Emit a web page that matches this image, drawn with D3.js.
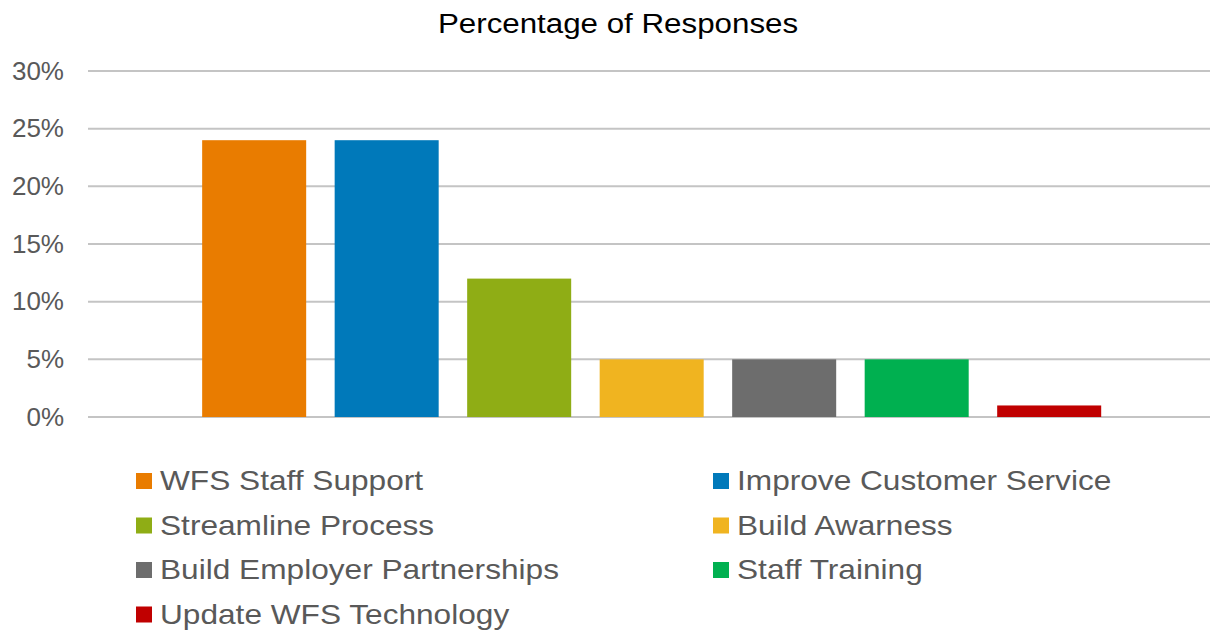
<!DOCTYPE html>
<html>
<head>
<meta charset="utf-8">
<script src="https://cdn.jsdelivr.net/npm/d3@7"></script>
<style>
  body { margin: 0; background: #fff; }
  text { font-family: "Liberation Sans", Arial, sans-serif; }
</style>
</head>
<body>
<div id="chart"></div>
<script>
// data
var category = ["Responses"];
var seriesNames = ["WFS Staff Support", "Improve Customer Service", "Streamline Process",
    "Build Awarness", "Build Employer Partnerships", "Staff Training", "Update WFS Technology"];
var seriesValues = [24, 24, 12, 5, 5, 5, 1];
var seriesColors = ["#E97C00", "#0079BA", "#8FAD15", "#F0B420", "#6D6D6D", "#00B050", "#C00000"];
var yTicks = [0, 5, 10, 15, 20, 25, 30];

var W = 1210, H = 630;
var margin = {top: 71, right: 0, bottom: 213, left: 88};
var width = W - margin.left - margin.right,
    height = H - margin.top - margin.bottom;

var svg = d3.select("#chart").append("svg")
    .attr("width", W)
    .attr("height", H);

// title (the source text is drawn a little wide)
svg.append("text")
    .attr("transform", "translate(618,33) scale(1.16,1)")
    .attr("text-anchor", "middle")
    .style("font-size", "27px")
    .style("fill", "#000")
    .text("Percentage of Responses");

var g = svg.append("g")
    .attr("transform", "translate(" + margin.left + "," + margin.top + ")");

// scales
var x0 = d3.scaleBand().domain(category).range([0, width])
    .paddingInner(0).paddingOuter(0.124).align(0.512);
var x1 = d3.scaleBand().domain(seriesNames).range([0, x0.bandwidth()])
    .paddingInner(0.215).paddingOuter(0);
var y = d3.scaleLinear().domain([0, 30]).range([height, 0]);

// gridlines
g.selectAll("line.grid").data(yTicks)
    .enter()
    .append("line")
    .attr("class", "grid")
    .attr("x1", 0)
    .attr("x2", width)
    .attr("y1", function (d) { return y(d); })
    .attr("y2", function (d) { return y(d); })
    .style("stroke", "#c4c4c4")
    .style("stroke-width", 2);

// y axis labels
var yAxis = g.append("g")
    .call(d3.axisLeft(y).tickValues(yTicks).tickSize(0).tickPadding(24)
        .tickFormat(function (d) { return d + "%"; }));
yAxis.select(".domain").remove();
yAxis.selectAll("text")
    .style("font-size", "26px")
    .style("fill", "#595959")
    .style("font-family", "'Liberation Sans', Arial, sans-serif");

// bars
var cat = g.append("g")
    .attr("transform", "translate(" + x0(category[0]) + ",0)");
cat.selectAll("rect").data(seriesNames)
    .enter()
    .append("rect")
    .attr("x", function (d) { return x1(d); })
    .attr("width", x1.bandwidth())
    .attr("y", function (d, i) { return y(seriesValues[i]); })
    .attr("height", function (d, i) { return height - y(seriesValues[i]); })
    .style("fill", function (d, i) { return seriesColors[i]; });

// legend
var legend = svg.append("g");
var item = legend.selectAll("g").data(seriesNames)
    .enter()
    .append("g")
    .attr("transform", function (d, i) {
        var col = i % 2, row = Math.floor(i / 2);
        return "translate(" + (136 + col * 577) + "," + (490 + row * 44.5) + ")";
    });
item.append("rect")
    .attr("x", 0)
    .attr("y", -17)
    .attr("width", 16)
    .attr("height", 16)
    .style("fill", function (d, i) { return seriesColors[i]; });
item.append("text")
    .attr("transform", "translate(24,0) scale(1.13,1)")
    .style("font-size", "28px")
    .style("fill", "#595959")
    .text(function (d) { return d; });
</script>
</body>
</html>
